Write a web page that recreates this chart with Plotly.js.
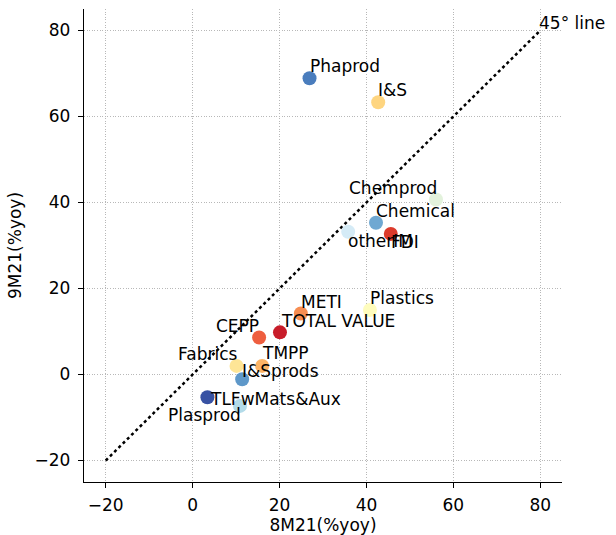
<!DOCTYPE html>
<html>
<head>
<meta charset="utf-8">
<script src="https://cdn.plot.ly/plotly-3.0.1.min.js"></script>
<style>html,body{margin:0;padding:0;background:#fff;}#chart{width:616px;height:535px;}</style>
</head>
<body>
<div id="chart"></div>
<script>
// Data
const labels = ["Phaprod","I&S","Chemprod","Chemical","otherIM","FDI","Plastics","METI","TOTAL VALUE","CEPP","Fabrics","TMPP","I&Sprods","TLFwMats&Aux","Plasprod"];
const x8M21 = [26.9, 42.7, 56.0, 42.2, 35.8, 45.6, 40.8, 24.9, 20.1, 15.3, 10.1, 16.0, 11.4, 3.4, 10.9];
const y9M21 = [68.9, 63.3, 40.7, 35.3, 33.2, 32.7, 15.0, 14.2, 9.8, 8.6, 2.0, 2.0, -1.1, -5.3, -7.3];
const lineX = [-20, 80];
const lineY = [-20, 80];
const tickVals = [-20, 0, 20, 40, 60, 80];

// Styles
const colors = ["#4a7dbd","#fed580","#e3f2dc","#6fa8d2","#d5ebf6","#dc3b2c","#fefcbd","#f78e52","#c81d2a","#ee5e3f","#fee596","#fdb466","#5e98c9","#3852a3","#b3dbe9"];
// label placement: [xanchor, xshift, yshift]
const labelPlace = [
  ["left",-2,12],["left",-2,12.5],["right",3,11],["left",-2,11.5],["left",-2,-9],
  ["left",-2,-8],["left",-2,12],["left",-2,11],["left",-0.5,11.5],["right",2,12],
  ["right",2,11.5],["left",-2,13],["left",-2,8],["left",1,-2],["right",3,-9]
];

const font = {family: "DejaVu Sans, sans-serif", size: 17, color: "#000"};

const traces = [
  {x: lineX, y: lineY, mode: "lines", type: "scatter", line: {color: "#000", width: 2.5, dash: "dot"}, hoverinfo: "skip", showlegend: false},
  {x: x8M21, y: y9M21, text: labels, mode: "markers", type: "scatter", marker: {size: 14, color: colors, line: {width: 0}}, showlegend: false}
];

const annotations = labels.map((t, i) => ({
  x: x8M21[i], y: y9M21[i], text: t, showarrow: false,
  xanchor: labelPlace[i][0], yanchor: "middle",
  xshift: labelPlace[i][1], yshift: labelPlace[i][2], font: font
}));
annotations.push({x: lineX[1], y: lineY[1], text: "45° line", showarrow: false, xanchor: "left", yanchor: "bottom", xshift: -3, yshift: -4, font: font});

const axisCommon = {
  range: [-25, 85], tickvals: tickVals, showline: true, linecolor: "#000", linewidth: 1.2,
  ticks: "outside", ticklen: 5, tickwidth: 1.2, tickcolor: "#000",
  showgrid: true, gridcolor: "#b8b8b8", griddash: "1px,1.6px", gridwidth: 1,
  zeroline: false, tickfont: font, automargin: false
};

const layout = {
  width: 616, height: 535,
  margin: {l: 84, r: 54, t: 9, b: 53},
  paper_bgcolor: "#fff", plot_bgcolor: "#fff",
  font: font,
  xaxis: Object.assign({}, axisCommon, {ticklabelstandoff: 2, title: {text: "8M21(%yoy)", font: font, standoff: 4}}),
  yaxis: Object.assign({}, axisCommon, {ticklabelstandoff: 4, title: {text: "9M21(%yoy)", font: font, standoff: 8}}),
  annotations: annotations,
  showlegend: false
};

Plotly.newPlot("chart", traces, layout, {displayModeBar: false, staticPlot: true});
</script>
</body>
</html>
